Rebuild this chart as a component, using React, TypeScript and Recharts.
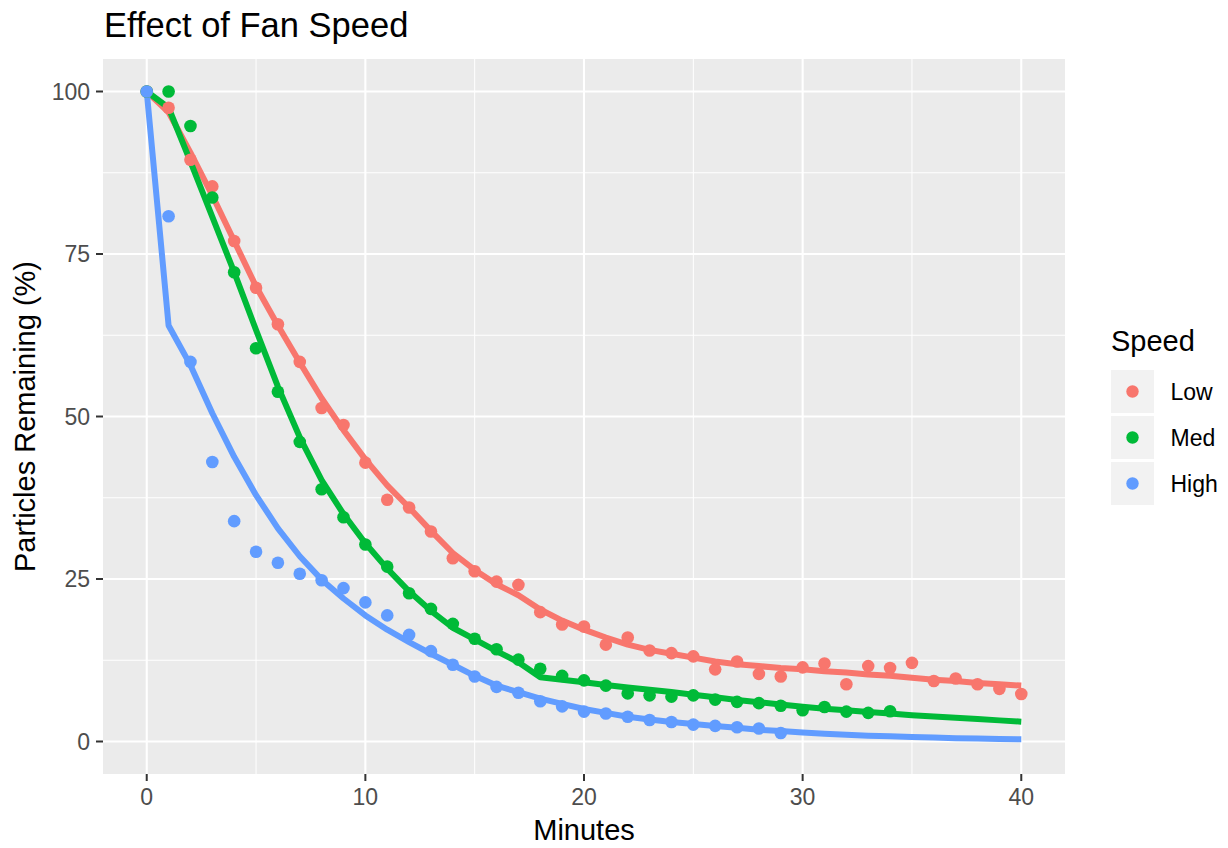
import {
  ComposedChart,
  Scatter,
  Line,
  XAxis,
  YAxis,
  CartesianGrid,
  Legend,
} from 'recharts';

document.body.style.margin = '0';

const FONT = '"Liberation Sans", Arial, Helvetica, sans-serif';

const speedNames = ['Low', 'Med', 'High'];
const speedColors = ['#F8766D', '#00BA38', '#619CFF'];

const minutes = [
  0, 1, 2, 3, 4, 5, 6, 7, 8, 9, 10, 11, 12, 13, 14, 15, 16, 17, 18, 19, 20,
  21, 22, 23, 24, 25, 26, 27, 28, 29, 30, 31, 32, 33, 34, 35, 36, 37, 38, 39, 40,
];

// observed particles remaining (%)
const lowObserved = [
  100, 97.5, 89.5, 85.4, 77.0, 69.8, 64.2, 58.4, 51.3, 48.7, 42.9, 37.2, 36.0,
  32.3, 28.2, 26.2, 24.6, 24.1, 19.9, 18.0, 17.7, 14.9, 16.0, 14.0, 13.6, 13.1,
  11.1, 12.3, 10.4, 10.0, 11.4, 12.0, 8.8, 11.6, 11.3, 12.1, 9.3, 9.7, 8.8, 8.1, 7.3,
];
const medObserved = [
  100, 100, 94.7, 83.7, 72.2, 60.5, 53.8, 46.1, 38.8, 34.5, 30.3, 26.9, 22.8,
  20.4, 18.1, 15.8, 14.2, 12.6, 11.2, 10.1, 9.4, 8.6, 7.4, 7.1, 6.9, 7.1, 6.45,
  6.1, 5.9, 5.5, 4.8, 5.3, 4.6, 4.4, 4.65,
];
const highObserved = [
  100, 80.8, 58.4, 43.0, 33.9, 29.2, 27.5, 25.8, 24.8, 23.6, 21.4, 19.4, 16.4,
  13.9, 11.8, 10.0, 8.4, 7.5, 6.2, 5.4, 4.6, 4.3, 3.8, 3.3, 3.0, 2.6, 2.4, 2.2,
  2.0, 1.3,
];

// model predictions
const lowFitted = [
  100, 96.8, 90.6, 84.0, 77.0, 70.0, 64.0, 58.3, 52.8, 47.9, 43.4, 39.4, 36.0,
  32.4, 29.0, 26.4, 24.2, 22.5, 20.3, 18.6, 17.2, 16.0, 14.9, 14.1, 13.5, 12.9,
  12.3, 11.9, 11.6, 11.3, 11.1, 10.8, 10.6, 10.3, 10.1, 9.8, 9.5, 9.3, 9.0, 8.8, 8.6,
];
const medFitted = [
  100, 97.5, 89.2, 80.7, 72.2, 63.3, 54.6, 46.8, 40.2, 35.0, 30.5, 26.6, 23.1,
  20.1, 17.5, 15.7, 13.9, 12.2, 9.9, 9.5, 9.1, 8.7, 8.3, 7.95, 7.6, 7.2, 6.8,
  6.4, 6.05, 5.7, 5.35, 5.05, 4.8, 4.55, 4.3, 4.05, 3.85, 3.65, 3.45, 3.25, 3.05,
];
const highFitted = [
  100, 64.0, 57.9, 50.5, 43.8, 37.9, 32.8, 28.5, 24.9, 22.0, 19.4, 17.2, 15.3,
  13.5, 11.8, 10.1, 8.6, 7.6, 6.6, 5.8, 5.0, 4.4, 3.8, 3.4, 3.0, 2.7, 2.4, 2.1,
  1.8, 1.6, 1.4, 1.2, 1.05, 0.9, 0.8, 0.7, 0.6, 0.5, 0.45, 0.4, 0.35,
];

const xTicks = [0, 10, 20, 30, 40];
const yTicks = [0, 25, 50, 75, 100];
const xMinor = [5, 15, 25, 35];
const yMinor = [12.5, 37.5, 62.5, 87.5];

const observed = [lowObserved, medObserved, highObserved].map((vals) =>
  vals.map((value, i) => ({ minute: minutes[i], value }))
);
const fitted = [lowFitted, medFitted, highFitted].map((vals) =>
  vals.map((fit, i) => ({ minute: minutes[i], fit }))
);

function Dot(props: { cx?: number; cy?: number; fill?: string }) {
  const { cx, cy, fill } = props;
  if (cx == null || cy == null) return null;
  return <circle cx={cx} cy={cy} r={6.3} fill={fill} />;
}

function SpeedLegend() {
  return (
    <svg width={125} height={190} style={{ fontFamily: FONT, display: 'block' }}>
      <text x={0} y={31} fontSize={29} fill="#000">
        Speed
      </text>
      {speedNames.map((name, i) => (
        <g key={name} transform={`translate(0, ${50 + i * 46})`}>
          <rect width={43} height={43} fill="#F2F2F2" />
          <circle cx={21.5} cy={21.5} r={6.2} fill={speedColors[i]} />
          <text x={59.5} y={30} fontSize={23} fill="#000">
            {name}
          </text>
        </g>
      ))}
    </svg>
  );
}

function XTitle({ viewBox }: { viewBox?: { x: number; y: number; width: number; height: number } }) {
  if (!viewBox) return null;
  return (
    <text x={viewBox.x + viewBox.width / 2} y={840} textAnchor="middle" fontSize={29} fill="#000">
      Minutes
    </text>
  );
}

function YTitle({ viewBox }: { viewBox?: { x: number; y: number; width: number; height: number } }) {
  if (!viewBox) return null;
  const cy = viewBox.y + viewBox.height / 2;
  return (
    <text
      x={35}
      y={cy}
      transform={`rotate(-90, 35, ${cy})`}
      textAnchor="middle"
      fontSize={29}
      fill="#000"
    >
      Particles Remaining (%)
    </text>
  );
}

export default function App() {
  return (
    <div style={{ position: 'relative', width: 1228, height: 848, background: '#fff', fontFamily: FONT }}>
      <div
        style={{
          position: 'absolute',
          left: 104,
          top: 7.5,
          fontSize: 34.5,
          lineHeight: 1,
          color: '#000',
          whiteSpace: 'nowrap',
        }}
      >
        Effect of Fan Speed
      </div>
      <ComposedChart
        width={1228}
        height={848}
        margin={{ top: 59, right: 163, bottom: 0, left: 0 }}
        style={{ fontFamily: FONT }}
      >
        <CartesianGrid
          fill="#EBEBEB"
          stroke="#FFFFFF"
          strokeWidth={1}
          verticalValues={xMinor}
          horizontalValues={yMinor}
        />
        <CartesianGrid
          stroke="#FFFFFF"
          strokeWidth={2.1}
          verticalValues={xTicks}
          horizontalValues={yTicks}
        />
        <XAxis
          dataKey="minute"
          type="number"
          domain={[-2, 42]}
          ticks={xTicks}
          allowDataOverflow
          axisLine={false}
          tickLine={{ stroke: '#333333', strokeWidth: 2 }}
          tickSize={7}
          tickMargin={8}
          tick={{ fill: '#4D4D4D', fontSize: 23 }}
          height={74}
          label={(props: any) => <XTitle viewBox={props.viewBox} />}
        />
        <YAxis
          type="number"
          domain={[-5, 105]}
          ticks={yTicks}
          allowDataOverflow
          axisLine={false}
          tickLine={{ stroke: '#333333', strokeWidth: 2 }}
          tickSize={7}
          tickMargin={6}
          tick={{ fill: '#4D4D4D', fontSize: 23 }}
          width={103}
          label={(props: any) => <YTitle viewBox={props.viewBox} />}
        />
        {observed.map((pts, i) => (
          <Scatter
            key={`pts-${speedNames[i]}`}
            name={speedNames[i]}
            data={pts}
            dataKey="value"
            fill={speedColors[i]}
            shape={(p: any) => <Dot cx={p.cx} cy={p.cy} fill={speedColors[i]} />}
            isAnimationActive={false}
          />
        ))}
        {fitted.map((pts, i) => (
          <Line
            key={`fit-${speedNames[i]}`}
            data={pts}
            dataKey="fit"
            type="linear"
            stroke={speedColors[i]}
            strokeWidth={6}
            strokeLinejoin="round"
            dot={false}
            activeDot={false}
            legendType="none"
            isAnimationActive={false}
          />
        ))}
        <Legend
          layout="vertical"
          align="center"
          verticalAlign="middle"
          content={() => <SpeedLegend />}
          wrapperStyle={{ left: 1111, top: 320, width: 125, height: 190 }}
        />
      </ComposedChart>
    </div>
  );
}
